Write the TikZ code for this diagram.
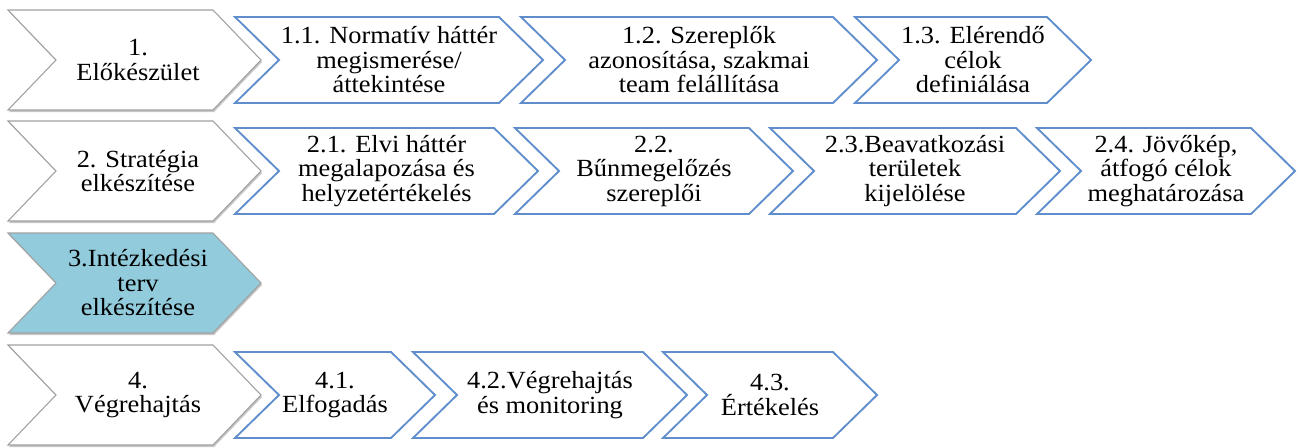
\documentclass[tikz,border=0pt]{standalone}
\usepackage{fontspec}
\setmainfont[FakeStretch=1.07]{Liberation Serif}
\usetikzlibrary{shadows}
\definecolor{stepgray}{RGB}{160,160,160}
\definecolor{subblue}{RGB}{96,142,204}
\definecolor{planfill}{RGB}{146,203,220}

\begin{document}
\begin{tikzpicture}[x=0.75pt, y=-0.75pt, every node/.style={align=center, inner sep=0pt, font=\fontsize{18.5}{18.4}\selectfont},%
        mainchev/.style={draw=stepgray, line width=0.8pt, drop shadow={shadow xshift=0.8pt, shadow yshift=-1.5pt, opacity=.45}},
        subchev/.style={draw=subblue, fill=white, line width=1.4pt}]
        \useasboundingbox (0,0) rectangle (1298,447);
        % main steps
        \foreach \n/\cy/\fc/\txt in {1/60/white/{1.\\Előkészület}, 2/171/white/{2. Stratégia\\elkészítése},
                3/283/planfill/{3.Intézkedési\\terv\\elkészítése}, 4/395/white/{4.\\Végrehajtás}}{
                \draw[mainchev, fill=\fc] (8,\cy-50) -- (213,\cy-50) -- (261,\cy) -- (213,\cy+50) -- (8,\cy+50) -- (56,\cy) -- cycle;
                \node (main\n) at (138,\cy) {\txt};
        }
        % sub steps
        \foreach \n/\xa/\xb/\cy/\txt in {11/235/543/60/{1.1. Normatív háttér\\megismerése/\\áttekintése},
                12/521/877/60/{1.2. Szereplők\\azonosítása, szakmai\\team felállítása},
                13/855/1091/60/{1.3. Elérendő\\célok\\definiálása},
                21/235/538/171/{2.1. Elvi háttér\\megalapozása és\\helyzetértékelés},
                22/515/793/171/{2.2.\\Bűnmegelőzés\\szereplői},
                23/770/1060/171/{2.3.Beavatkozási\\területek\\kijelölése},
                24/1037/1295/171/{2.4. Jövőkép,\\átfogó célok\\meghatározása},
                41/235/435/395/{4.1.\\Elfogadás},
                42/413/687/395/{4.2.Végrehajtás\\és monitoring},
                43/663/877/395/{4.3.\\Értékelés}}{
                \draw[subchev] (\xa,\cy-43) -- (\xb-44,\cy-43) -- (\xb,\cy) -- (\xb-44,\cy+43) -- (\xa,\cy+43) -- (\xa+44,\cy) -- cycle;
                \node (sub\n) at ({(\xa+\xb)/2},\cy) {\txt};
        }
\end{tikzpicture}
\end{document}
